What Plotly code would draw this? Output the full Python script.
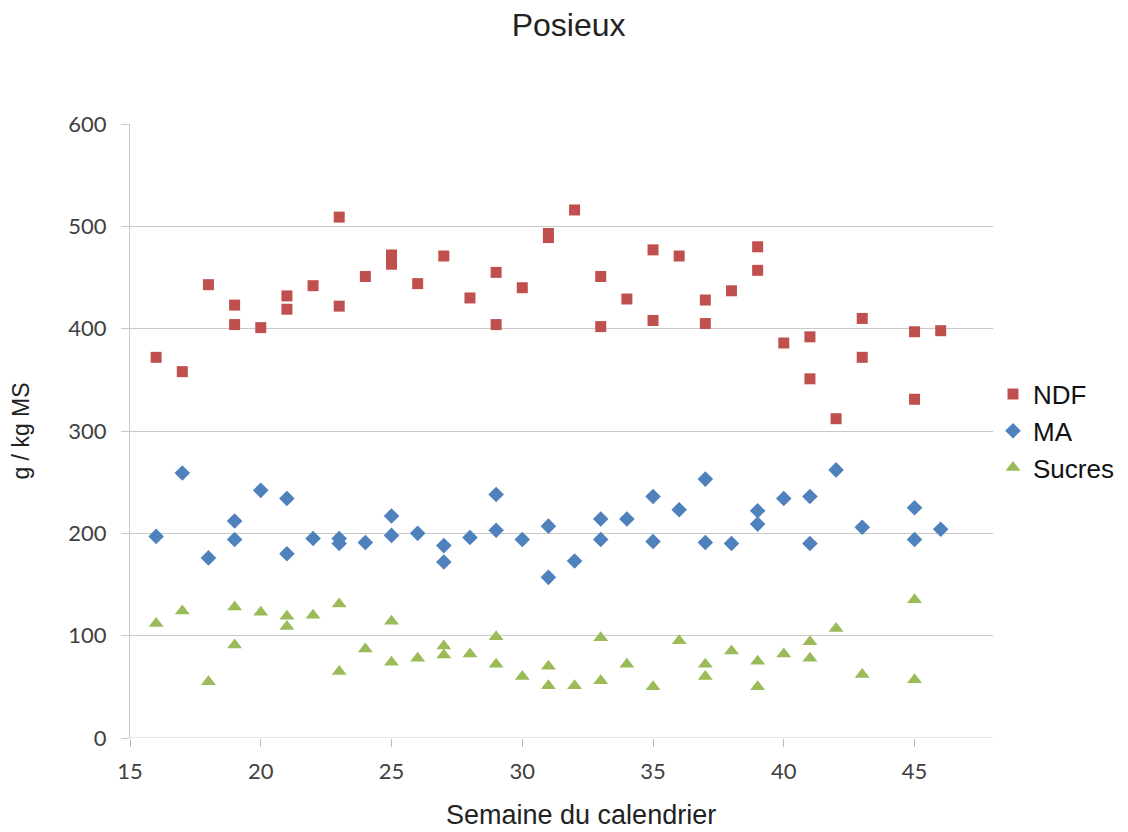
import plotly.graph_objects as go

# NDF
ndf_x = [16, 17, 18, 19, 19, 20, 21, 21, 22, 23, 23, 24, 25, 25, 26, 27, 28, 29, 29, 30,
         31, 31, 32, 33, 33, 34, 35, 35, 36, 37, 37, 38, 39, 39, 40, 41, 41, 42, 43, 43,
         45, 45, 46]
ndf_y = [372, 358, 443, 423, 404, 401, 432, 419, 442, 509, 422, 451, 472, 463, 444, 471, 430, 455, 404, 440,
         493, 489, 516, 451, 402, 429, 477, 408, 471, 428, 405, 437, 480, 457, 386, 392, 351, 312, 410, 372,
         397, 331, 398]

# MA
ma_x = [16, 17, 18, 19, 19, 20, 21, 21, 22, 23, 23, 24, 25, 25, 26, 27, 27, 28, 29, 29,
        30, 31, 31, 32, 33, 33, 34, 35, 35, 36, 37, 37, 38, 39, 39, 40, 41, 41, 42, 43,
        45, 45, 46]
ma_y = [197, 259, 176, 212, 194, 242, 234, 180, 195, 195, 190, 191, 217, 198, 200, 188, 172, 196, 238, 203,
        194, 207, 157, 173, 214, 194, 214, 236, 192, 223, 253, 191, 190, 222, 209, 234, 236, 190, 262, 206,
        225, 194, 204]

# Sucres
su_x = [16, 17, 18, 19, 19, 20, 21, 21, 22, 23, 23, 24, 25, 25, 26, 27, 27, 28, 29, 29,
        30, 31, 31, 32, 33, 33, 34, 35, 36, 37, 37, 38, 39, 39, 40, 41, 41, 42, 43, 45, 45]
su_y = [112, 124, 55, 128, 91, 123, 119, 109, 120, 131, 65, 87, 114, 74, 78, 90, 81, 82, 99, 72,
        60, 70, 51, 51, 98, 56, 72, 50, 95, 72, 60, 85, 75, 50, 82, 94, 78, 107, 62, 135, 57]

x_ticks = [15, 20, 25, 30, 35, 40, 45]
y_ticks = [0, 100, 200, 300, 400, 500, 600]

fig = go.Figure()
fig.add_trace(go.Scatter(x=ndf_x, y=ndf_y, mode="markers", name="NDF",
                         marker=dict(symbol="square", size=11, color="#C0504D")))
fig.add_trace(go.Scatter(x=ma_x, y=ma_y, mode="markers", name="MA",
                         marker=dict(symbol="diamond", size=12, color="#4F81BD")))
fig.add_trace(go.Scatter(x=su_x, y=su_y, mode="markers", name="Sucres",
                         marker=dict(symbol="triangle-up", size=13, color="#9BBB59")))

fig.update_layout(
    width=1128, height=832,
    paper_bgcolor="white", plot_bgcolor="white",
    margin=dict(l=122, r=143, t=116, b=102, autoexpand=False),
    title=dict(text="Posieux", x=0.497, xanchor="center", y=0.98, yanchor="middle",
               font=dict(family="Liberation Sans", size=32, color="#222222")),
    font=dict(family="Liberation Sans", color="#333333"),
    showlegend=True,
    legend=dict(x=1.0, xanchor="left", y=0.50, yanchor="middle",
                font=dict(family="Liberation Sans", size=26, color="#111111"),
                itemwidth=30, tracegroupgap=0, bgcolor="rgba(0,0,0,0)"),
    xaxis=dict(range=[15, 48], tickvals=x_ticks, ticktext=[str(v) for v in x_ticks],
               showgrid=False, zeroline=False, showline=False, automargin=False,
               ticks="outside", ticklen=8, tickcolor="#bfbfbf", tickwidth=1,
               ticklabelstandoff=6,
               tickfont=dict(family="Lato", size=22, color="#404040")),
    yaxis=dict(range=[0, 600], tickvals=y_ticks, ticktext=[str(v) for v in y_ticks],
               showgrid=True, gridcolor="#c8c8c8", gridwidth=1, zeroline=False,
               showline=True, linecolor="#c8c8c8", linewidth=1, automargin=False,
               ticks="outside", ticklen=8, tickcolor="#c8c8c8",
               ticklabelstandoff=10,
               tickfont=dict(family="Lato", size=22, color="#404040"),
               title=dict(text="g / kg MS",
                          font=dict(family="Liberation Sans", size=23, color="#222222"), standoff=42)),
    annotations=[dict(text="Semaine du calendrier", xref="paper", yref="paper",
                      x=0.5226, y=0, xanchor="center", yanchor="middle", yshift=-77,
                      showarrow=False,
                      font=dict(family="Liberation Sans", size=27, color="#222222"))],
)
fig.add_hline(y=0, line=dict(color="#c8c8c8", width=1))

fig.write_html("out.html")
